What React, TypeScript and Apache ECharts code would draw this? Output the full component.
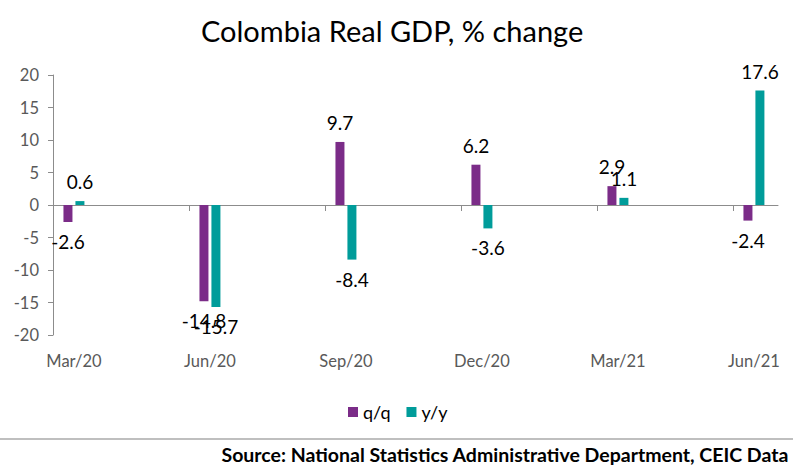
import React, { useEffect, useRef } from "react";
import * as echarts from "echarts";

const categories = ["Mar/20", "Jun/20", "Sep/20", "Dec/20", "Mar/21", "Jun/21"];
const qoq = [-2.6, -14.8, 9.7, 6.2, 2.9, -2.4];
const yoy = [0.6, -15.7, -8.4, -3.6, 1.1, 17.6];
const seriesNames = ["q/q", "y/y"];
const yTicks = { min: -20, max: 20, interval: 5 };

const FONT = "Lato, 'Noto Sans', sans-serif";
const X_MIN = -0.154;
const X_MAX = 5.177;

export default function App() {
  const ref = useRef<HTMLDivElement>(null);
  useEffect(() => {
    if (!ref.current) return;
    const chart = echarts.init(ref.current, null, { renderer: "svg" });
    const tickVals = categories.map((_, i) => X_MIN + i);
    const mk = (arr: number[]) =>
      arr.map((v, i) => ({
        value: [i, v],
        label: { position: v >= 0 ? "top" : "bottom" },
      }));
    const labelCfg = {
      show: true,
      distance: 10,
      color: "#000",
      fontSize: 19,
      fontFamily: FONT,
      formatter: (p: any) => p.value[1].toFixed(1),
    };
    chart.setOption({
      animation: false,
      textStyle: { fontFamily: FONT },
      title: {
        text: "Colombia Real GDP, % change",
        left: 196,
        top: 11,
        textStyle: { fontSize: 29, fontWeight: "normal", color: "#000", fontFamily: FONT },
      },
      legend: {
        left: 343,
        top: 398,
        icon: "rect",
        itemWidth: 10,
        itemHeight: 10,
        itemGap: 16,
        textStyle: { fontSize: 18, color: "#000", fontFamily: FONT },
        data: seriesNames,
      },
      grid: { left: 53, right: 15, top: 75, bottom: 131, containLabel: false },
      xAxis: [
        {
          type: "value",
          min: X_MIN,
          max: X_MAX,
          position: "bottom",
          axisLine: { show: true, onZero: true, lineStyle: { color: "#8c8c8c", width: 1 } },
          axisTick: { show: true, customValues: tickVals, length: 6, lineStyle: { color: "#8c8c8c" } },
          axisLabel: { show: false },
          splitLine: { show: false },
        },
        {
          type: "value",
          min: X_MIN,
          max: X_MAX,
          position: "bottom",
          axisLine: { show: false, onZero: false },
          axisTick: { show: false },
          axisLabel: {
            show: true,
            customValues: categories.map((_, i) => i),
            formatter: (v: number) => categories[Math.round(v)] ?? "",
            margin: 17,
            fontSize: 16.5,
            color: "#595959",
            fontFamily: FONT,
          },
          splitLine: { show: false },
        },
      ],
      yAxis: {
        type: "value",
        min: yTicks.min,
        max: yTicks.max,
        interval: yTicks.interval,
        axisLine: { show: true, onZero: false, lineStyle: { color: "#8c8c8c" } },
        axisTick: { show: true, length: 5, lineStyle: { color: "#8c8c8c" } },
        axisLabel: { fontSize: 16.5, color: "#595959", margin: 14, fontFamily: FONT },
        splitLine: { show: false },
      },
      series: [
        {
          name: seriesNames[0],
          type: "bar",
          xAxisIndex: 0,
          barWidth: 9,
          barGap: "33%",
          itemStyle: { color: "#7B2C88" },
          label: labelCfg,
          data: mk(qoq),
        },
        {
          name: seriesNames[1],
          type: "bar",
          xAxisIndex: 0,
          barWidth: 9,
          barGap: "33%",
          itemStyle: { color: "#009C9A" },
          label: labelCfg,
          data: mk(yoy),
        },
      ],
      graphic: [
        {
          type: "line",
          shape: { x1: 0, y1: 439, x2: 793, y2: 439 },
          style: { stroke: "#bfbfbf", lineWidth: 2 },
        },
        {
          type: "text",
          right: 4,
          top: 444,
          style: {
            text: "Source: National Statistics Administrative Department, CEIC Data",
            fontSize: 19.5,
            fontWeight: "bold",
            fill: "#000",
            fontFamily: FONT,
          },
        },
      ],
    });
    return () => chart.dispose();
  }, []);
  return <div ref={ref} style={{ width: 793, height: 466, position: "absolute", left: 0, top: 0 }} />;
}
